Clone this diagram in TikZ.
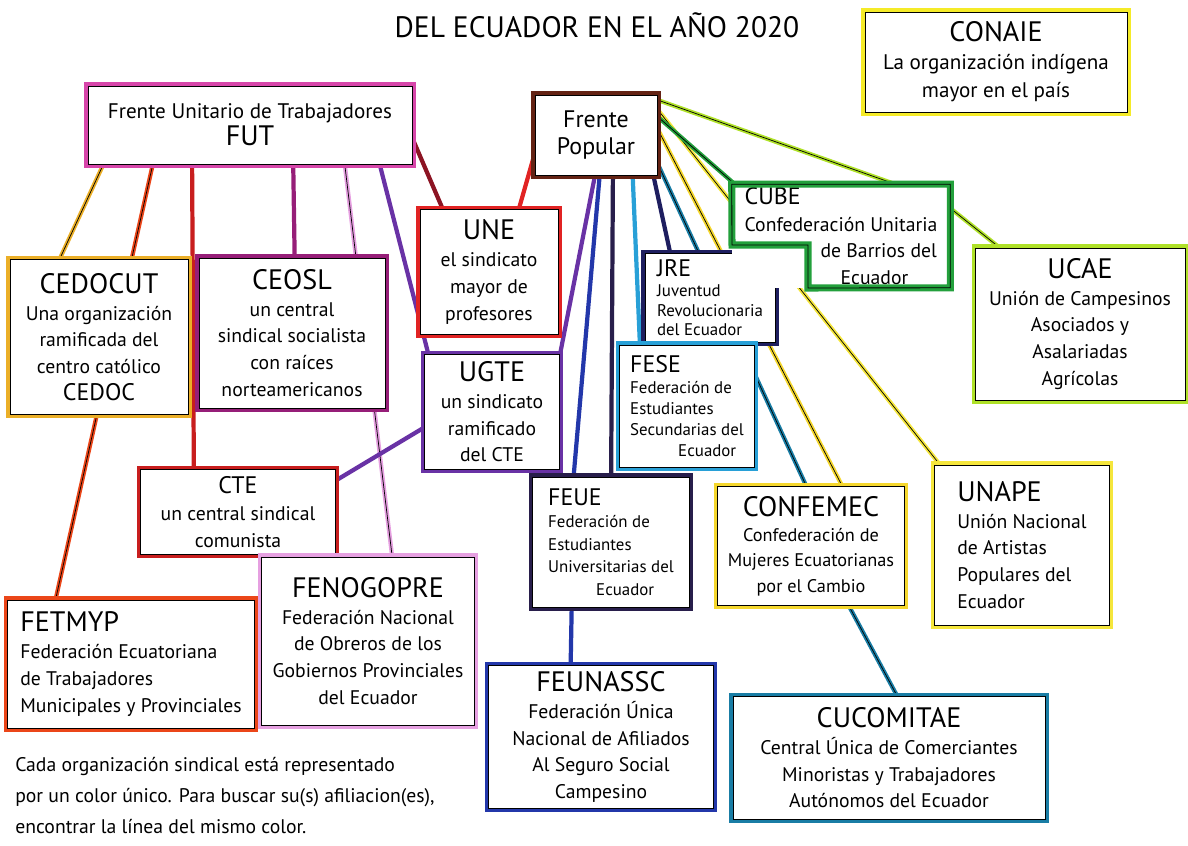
\documentclass[tikz,border=0pt]{standalone}
\usepackage{fontspec}
\setmainfont{PT Sans}
\usetikzlibrary{backgrounds}

\definecolor{futpink}{RGB}{215,70,170}
\definecolor{fpbrown}{RGB}{100,35,20}
\definecolor{conaieyellow}{RGB}{245,235,40}
\definecolor{cedocutgold}{RGB}{235,175,40}
\definecolor{ceoslmagenta}{RGB}{150,30,120}
\definecolor{unered}{RGB}{225,35,35}
\definecolor{unemaroon}{RGB}{140,20,35}
\definecolor{ugteviolet}{RGB}{105,50,165}
\definecolor{jrenavy}{RGB}{30,30,95}
\definecolor{feseblue}{RGB}{40,160,215}
\definecolor{cubegreen}{RGB}{35,160,60}
\definecolor{ucaelime}{RGB}{175,225,40}
\definecolor{ctered}{RGB}{200,30,30}
\definecolor{fenopink}{RGB}{230,160,225}
\definecolor{fetmyporange}{RGB}{235,70,25}
\definecolor{feuenavy}{RGB}{40,30,75}
\definecolor{confemecyellow}{RGB}{245,215,45}
\definecolor{unapeyellow}{RGB}{245,230,60}
\definecolor{feunasscblue}{RGB}{35,55,170}
\definecolor{cucoteal}{RGB}{25,125,165}

\newcommand{\sigla}[1]{{\fontsize{20}{22}\selectfont #1}}
\newcommand{\siglita}[1]{{\fontsize{17}{19}\selectfont #1}}

\begin{document}
\begin{tikzpicture}[x=0.025cm,y=-0.025cm,
	org/.style={draw=black,line width=0.6pt,fill=white,preaction={draw=#1,line width=5pt},align=center,inner sep=1pt,font=\fontsize{14}{19}\selectfont},
	dims/.style 2 args={minimum width=#1*0.025cm,minimum height=#2*0.025cm},
	link/.style={draw=black,line width=0.5pt,preaction={draw=#1,line width=3pt}},
	crayon/.style={draw=#1,line width=3pt}]
	\useasboundingbox (0,0) rectangle (1188,846);

	% titulo y nota
	\node (titulo) at (597,25) {\fontsize{21}{23}\selectfont DEL ECUADOR EN EL AÑO 2020};
	\node[align=left,anchor=north west,inner sep=0pt,font=\fontsize{14}{22}\selectfont] (nota) at (15,757)
	  {Cada organización sindical está representado\\por un color único. Para buscar su(s) afiliacion(es),\\encontrar la línea del mismo color.};

	% las organizaciones
	\node[org=futpink,dims={324}{78}] (fut) at (250,125) {{\fontsize{15}{19}\selectfont Frente Unitario de Trabajadores}\\ \sigla{FUT}};
	\node[org=fpbrown,dims={122}{80}] (fp) at (596,135) {\siglita{Frente}\\ \siglita{Popular}};
	\node[org=conaieyellow,dims={262}{100},font=\fontsize{15}{20}\selectfont] (conaie) at (996,62) {\sigla{CONAIE}\\La organización indígena\\mayor en el país};
	\node[org=cedocutgold,dims={178}{155}] (cedocut) at (99,337) {\sigla{CEDOCUT}\\Una organización\\ramificada del\\centro católico\\\siglita{CEDOC}};
	\node[org=ceoslmagenta,dims={186}{150}] (ceosl) at (292,333) {\sigla{CEOSL}\\un central\\sindical socialista\\con raíces\\norteamericanos};
	\node[org=unered,dims={138}{125}] (une) at (489,272) {\sigla{UNE}\\el sindicato\\mayor de\\profesores};
	\node[org=ugteviolet,dims={135}{115}] (ugte) at (492,412) {\sigla{UGTE}\\un sindicato\\ramificado\\del CTE};
	\node[org=jrenavy,dims={130}{89},align=left,font=\fontsize{12}{14}\selectfont] (jre) at (710,298) {\siglita{JRE}\\Juventud\\Revolucionaria\\del Ecuador};
	\node[org=feseblue,dims={135}{122},align=left,font=\fontsize{12}{15}\selectfont] (fese) at (687,406) {\siglita{FESE}\\Federación de\\Estudiantes\\Secundarias del\\\hspace*{1.2cm}Ecuador};
	\node[fill=white,dims={218}{103},align=left,inner sep=1pt,font=\fontsize{14}{19}\selectfont] (cube) at (841,236)
	  {\siglita{CUBE}\\Confederación Unitaria\\\hspace*{1.9cm}de Barrios del\\\hspace*{2.4cm}Ecuador};
	\draw[black,line width=0.6pt,preaction={draw=cubegreen,line width=5pt}] (cube.north west) -- (cube.north east) -- (cube.south east)
	  -- ([shift={(-33,52)}]cube.center) -- ([shift={(-33,9)}]cube.center) -- ([shift={(-109,9)}]cube.center) -- cycle;
	\node[org=ucaelime,dims={210}{152}] (ucae) at (1080,324) {\sigla{UCAE}\\Unión de Campesinos\\Asociados y\\Asalariadas\\Agrícolas};
	\node[org=ctered,dims={195}{85}] (cte) at (238,512) {\siglita{CTE}\\un central sindical\\comunista};
	\node[org=fenopink,dims={213}{168}] (fenogopre) at (368,641) {\sigla{FENOGOPRE}\\Federación Nacional\\de Obreros de los\\Gobiernos Provinciales\\del Ecuador};
	\node[org=fetmyporange,dims={247}{128},align=left] (fetmyp) at (131,664) {\sigla{FETMYP}\\Federación Ecuatoriana\\de Trabajadores\\Municipales y Provinciales};
	\node[org=feuenavy,dims={157}{130},align=left,font=\fontsize{12}{16}\selectfont] (feue) at (611,542) {\siglita{FEUE}\\Federación de\\Estudiantes\\Universitarias del\\\hspace*{1.2cm}Ecuador};
	\node[org=confemecyellow,dims={187}{119},font=\fontsize{13}{18}\selectfont] (confemec) at (811,546) {\sigla{CONFEMEC}\\Confederación de\\Mujeres Ecuatorianas\\por el Cambio};
	\node[org=unapeyellow,dims={175}{160},align=left] (unape) at (1022,545) {\sigla{UNAPE}\\Unión Nacional\\de Artistas\\Populares del\\Ecuador};
	\node[org=feunasscblue,dims={225}{143}] (feunassc) at (601,737) {\sigla{FEUNASSC}\\Federación Única\\Nacional de Afiliados\\Al Seguro Social\\Campesino};
	\node[org=cucoteal,dims={312}{123}] (cucomitae) at (889,758) {\sigla{CUCOMITAE}\\Central Única de Comerciantes\\Minoristas y Trabajadores\\Autónomos del Ecuador};

	% las lineas de afiliacion
	\begin{scope}[on background layer]
	  \draw[link=cedocutgold] ([shift={(-140,25)}]fut.center) -- ([shift={(-49,-57)}]cedocut.center);
	  \draw[link=fetmyporange] ([shift={(-94,25)}]fut.center) -- ([shift={(-80,-44)}]fetmyp.center);
	  \draw[crayon=ctered] ([shift={(-58,25)}]fut.center) -- ([shift={(-44,-17)}]cte.center);
	  \draw[crayon=ceoslmagenta] ([shift={(43,25)}]fut.center) -- ([shift={(3,-53)}]ceosl.center);
	  \draw[link=fenopink] ([shift={(93,25)}]fut.center) -- ([shift={(27,-61)}]fenogopre.center);
	  \draw[crayon=ugteviolet] ([shift={(126,25)}]fut.center) -- ([shift={(-57,-32)}]ugte.center);
	  \draw[crayon=unemaroon] ([shift={(161,10)}]fut.center) -- ([shift={(-33,-32)}]une.center);
	  \draw[crayon=unered] ([shift={(-56,0)}]fp.center) -- ([shift={(21,-32)}]une.center);
	  \draw[crayon=ugteviolet] ([shift={(2,25)}]fp.center) -- ([shift={(63,-32)}]ugte.center);
	  \draw[crayon=feunasscblue] ([shift={(5,25)}]fp.center) -- ([shift={(-39,-47)}]feue.center);
	  \draw[crayon=feuenavy] ([shift={(17,25)}]fp.center) -- ([shift={(0,-47)}]feue.center);
	  \draw[crayon=feseblue] ([shift={(36,25)}]fp.center) -- ([shift={(-46,-36)}]fese.center);
	  \draw[crayon=jrenavy] ([shift={(54,25)}]fp.center) -- ([shift={(-35,-23)}]jre.center);
	  \draw[link=cucoteal] ([shift={(60,25)}]fp.center) -- ([shift={(4,-41)}]confemec.center);
	  \draw[link=confemecyellow] ([shift={(56,-17)}]fp.center) -- ([shift={(41,-41)}]confemec.center);
	  \draw[link=unapeyellow] ([shift={(58,-30)}]fp.center) -- ([shift={(-62,-55)}]unape.center);
	  \draw[link=cubegreen] ([shift={(54,-25)}]fp.center) -- ([shift={(-71,-21)}]cube.center);
	  \draw[link=ucaelime] ([shift={(56,-37)}]fp.center) -- ([shift={(99,-36)}]cube.center) -- ([shift={(-40,-44)}]ucae.center);
	  \draw[crayon=ugteviolet] ([shift={(-52,6)}]ugte.center) -- ([shift={(82,-22)}]cte.center);
	  \draw[crayon=feunasscblue] ([shift={(-39,48)}]feue.center) -- ([shift={(-31,-37)}]feunassc.center);
	  \draw[link=cucoteal] ([shift={(24,34)}]confemec.center) -- ([shift={(21,-38)}]cucomitae.center);
	\end{scope}
\end{tikzpicture}
\end{document}
